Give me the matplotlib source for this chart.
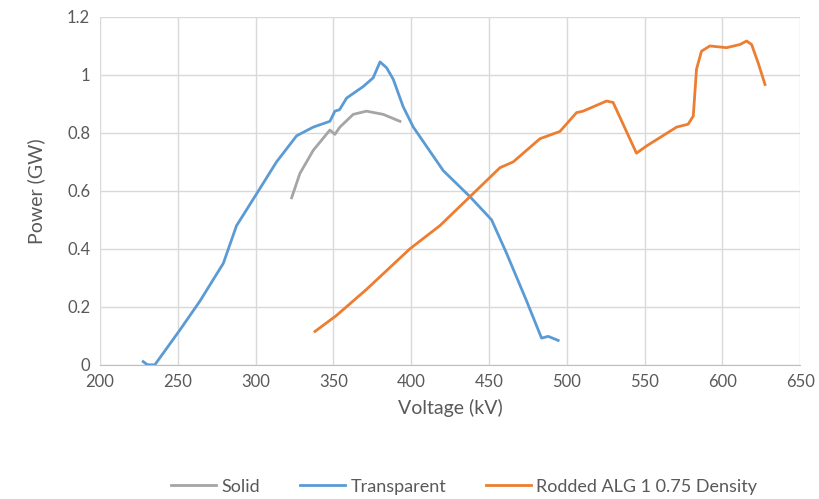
import matplotlib
matplotlib.use("Agg")
from matplotlib import pyplot as plt

plt.rcParams['font.family'] = ['Lato', 'DejaVu Sans']

# Solid
solid_v = [323.2, 328.5, 337.1, 347.8, 351.0, 354.2, 362.8, 371.3, 382.0, 392.8]
solid_p = [0.576, 0.66, 0.74, 0.81, 0.795, 0.82, 0.864, 0.875, 0.864, 0.84]

# Transparent
trans_v = [227.8, 230.5, 235.3, 251.4, 264.3, 279.3, 287.8, 300.7, 313.5, 326.4, 337.1,
           347.8, 351.0, 354.0, 358.5, 369.2, 375.6, 380.0, 384.2, 388.5, 394.9,
           401.4, 420.6, 437.8, 451.7, 461.3, 474.2, 483.8, 488.1, 494.5]
trans_p = [0.011, 0.0, 0.0, 0.12, 0.22, 0.35, 0.48, 0.59, 0.70, 0.79, 0.82,
           0.84, 0.875, 0.88, 0.92, 0.96, 0.99, 1.045, 1.025, 0.985, 0.89,
           0.82, 0.67, 0.58, 0.50, 0.385, 0.22, 0.092, 0.098, 0.084]

# Rodded ALG 1 0.75 Density
rod_v = [338.2, 352.0, 371.3, 399.2, 418.5, 437.8, 457.1, 465.6, 482.8, 495.6,
         506.3, 510.5, 525.6, 529.8, 544.8, 551.3, 570.6, 578.0, 581.3, 583.4,
         586.6, 592.0, 602.7, 611.3, 615.6, 618.8, 623.1, 627.4]
rod_p = [0.115, 0.17, 0.26, 0.40, 0.48, 0.58, 0.68, 0.70, 0.78, 0.805,
         0.87, 0.875, 0.91, 0.905, 0.73, 0.755, 0.82, 0.83, 0.858, 1.02,
         1.082, 1.10, 1.094, 1.105, 1.117, 1.105, 1.04, 0.967]

xticks = [200, 250, 300, 350, 400, 450, 500, 550, 600, 650]
yticks = [0, 0.2, 0.4, 0.6, 0.8, 1.0, 1.2]
ylabels = ["0", "0.2", "0.4", "0.6", "0.8", "1", "1.2"]

fig = plt.figure(figsize=(8.19, 4.99), dpi=100)
ax = fig.add_axes([0.122, 0.269, 0.855, 0.697])

ax.plot(solid_v, solid_p, color="#A5A5A5", lw=2, label="Solid")
ax.plot(trans_v, trans_p, color="#5B9BD5", lw=2, label="Transparent")
ax.plot(rod_v, rod_p, color="#ED7D31", lw=2, label="Rodded ALG 1 0.75 Density")

ax.set_xlim(200, 650)
ax.set_ylim(0, 1.2)
ax.set_xticks(xticks)
ax.set_yticks(yticks)
ax.set_yticklabels(ylabels)
ax.grid(True, color="#D9D9D9", lw=1)
ax.set_axisbelow(True)
for s in ["top", "right", "left"]:
    ax.spines[s].set_visible(False)
ax.spines["bottom"].set_color("#BFBFBF")
ax.tick_params(length=0, labelsize=12, labelcolor="#595959", pad=7)

ax.set_xlabel("Voltage (kV)", fontsize=14, color="#595959", labelpad=6)
ax.set_ylabel("Power (GW)", fontsize=14, color="#595959", labelpad=16)

ax.legend(loc="center", bbox_to_anchor=(0.52, -0.35), ncol=3, frameon=False,
          fontsize=13, labelcolor="#595959", handlelength=2.5, columnspacing=2.2,
          handletextpad=0.3)

plt.savefig("out.png", dpi=100)
